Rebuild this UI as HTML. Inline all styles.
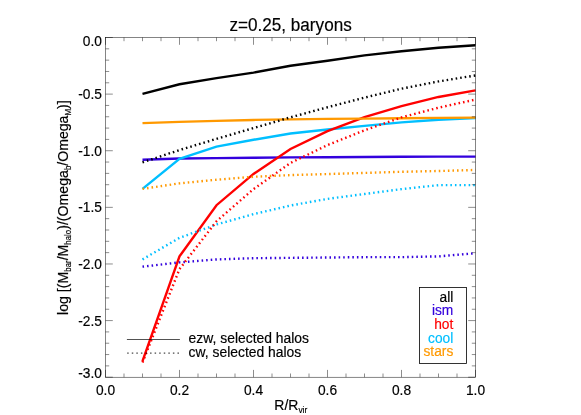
<!DOCTYPE html>
<html><head><meta charset="utf-8"><title>z=0.25, baryons</title>
<style>html,body{margin:0;padding:0;background:#fff;}svg{display:block;will-change:transform;opacity:0.999;}text{font-family:"Liberation Sans",sans-serif;fill:#000;stroke:#000;stroke-width:0.18px;}</style></head><body>
<svg width="581" height="415" viewBox="0 0 581 415">
<rect x="0" y="0" width="581" height="415" fill="#fff"/>
<g fill="none" stroke-linejoin="miter" stroke-linecap="butt">
<polyline points="142.50,93.89 179.50,84.27 216.50,78.15 253.50,72.60 290.50,65.81 327.50,60.71 364.50,55.39 401.50,51.31 438.50,47.69 475.50,45.31" stroke="#000000" stroke-width="2.4"/>
<polyline points="142.50,159.68 179.50,158.55 216.50,158.09 253.50,157.75 290.50,157.41 327.50,157.19 364.50,156.96 401.50,156.73 438.50,156.62 475.50,156.62" stroke="#3300dd" stroke-width="2.4"/>
<polyline points="142.50,188.89 179.50,158.77 216.50,146.66 253.50,139.75 290.50,133.52 327.50,129.45 364.50,125.82 401.50,122.42 438.50,119.82 475.50,118.12" stroke="#00bfff" stroke-width="2.4"/>
<polyline points="142.50,361.12 179.50,256.38 216.50,205.20 253.50,173.95 290.50,148.92 327.50,131.14 364.50,117.10 401.50,106.12 438.50,96.95 475.50,90.38" stroke="#ff0000" stroke-width="2.4"/>
<polyline points="142.50,123.10 179.50,121.86 216.50,120.84 253.50,119.93 290.50,119.37 327.50,118.91 364.50,118.58 401.50,118.24 438.50,117.90 475.50,117.67" stroke="#ff9900" stroke-width="2.4"/>
<polyline points="142.50,162.40 179.50,150.05 216.50,138.84 253.50,128.09 290.50,117.33 327.50,107.25 364.50,97.63 401.50,88.68 438.50,81.43 475.50,75.43" stroke="#000000" stroke-width="2.4" stroke-dasharray="1.55 3.02"/>
<polyline points="142.50,266.68 179.50,262.38 216.50,259.44 253.50,258.19 290.50,257.85 327.50,257.51 364.50,257.17 401.50,257.17 438.50,256.38 475.50,253.21" stroke="#3300dd" stroke-width="2.4" stroke-dasharray="1.55 3.02"/>
<polyline points="142.50,259.44 179.50,237.81 216.50,224.45 253.50,214.14 290.50,205.54 327.50,198.86 364.50,193.99 401.50,189.12 438.50,185.16 475.50,185.16" stroke="#00bfff" stroke-width="2.4" stroke-dasharray="1.55 3.02"/>
<polyline points="142.50,362.48 179.50,269.06 216.50,221.28 253.50,189.12 290.50,162.96 327.50,145.07 364.50,130.35 401.50,117.33 438.50,107.70 475.50,99.55" stroke="#ff0000" stroke-width="2.4" stroke-dasharray="1.55 3.02"/>
<polyline points="142.50,188.89 179.50,183.34 216.50,179.72 253.50,176.78 290.50,175.08 327.50,174.06 364.50,172.93 401.50,171.79 438.50,171.00 475.50,169.98" stroke="#ff9900" stroke-width="2.4" stroke-dasharray="1.55 3.02"/>
</g>
<rect x="105.50" y="37.50" width="370.00" height="339.70" fill="none" stroke="#000" stroke-width="0.48"/>
<g stroke="#000" stroke-width="0.45" fill="none">
<line x1="105.50" y1="377.20" x2="105.50" y2="369.90"/>
<line x1="105.50" y1="37.50" x2="105.50" y2="44.80"/>
<line x1="124.00" y1="377.20" x2="124.00" y2="373.50"/>
<line x1="124.00" y1="37.50" x2="124.00" y2="41.20"/>
<line x1="142.50" y1="377.20" x2="142.50" y2="373.50"/>
<line x1="142.50" y1="37.50" x2="142.50" y2="41.20"/>
<line x1="161.00" y1="377.20" x2="161.00" y2="373.50"/>
<line x1="161.00" y1="37.50" x2="161.00" y2="41.20"/>
<line x1="179.50" y1="377.20" x2="179.50" y2="369.90"/>
<line x1="179.50" y1="37.50" x2="179.50" y2="44.80"/>
<line x1="198.00" y1="377.20" x2="198.00" y2="373.50"/>
<line x1="198.00" y1="37.50" x2="198.00" y2="41.20"/>
<line x1="216.50" y1="377.20" x2="216.50" y2="373.50"/>
<line x1="216.50" y1="37.50" x2="216.50" y2="41.20"/>
<line x1="235.00" y1="377.20" x2="235.00" y2="373.50"/>
<line x1="235.00" y1="37.50" x2="235.00" y2="41.20"/>
<line x1="253.50" y1="377.20" x2="253.50" y2="369.90"/>
<line x1="253.50" y1="37.50" x2="253.50" y2="44.80"/>
<line x1="272.00" y1="377.20" x2="272.00" y2="373.50"/>
<line x1="272.00" y1="37.50" x2="272.00" y2="41.20"/>
<line x1="290.50" y1="377.20" x2="290.50" y2="373.50"/>
<line x1="290.50" y1="37.50" x2="290.50" y2="41.20"/>
<line x1="309.00" y1="377.20" x2="309.00" y2="373.50"/>
<line x1="309.00" y1="37.50" x2="309.00" y2="41.20"/>
<line x1="327.50" y1="377.20" x2="327.50" y2="369.90"/>
<line x1="327.50" y1="37.50" x2="327.50" y2="44.80"/>
<line x1="346.00" y1="377.20" x2="346.00" y2="373.50"/>
<line x1="346.00" y1="37.50" x2="346.00" y2="41.20"/>
<line x1="364.50" y1="377.20" x2="364.50" y2="373.50"/>
<line x1="364.50" y1="37.50" x2="364.50" y2="41.20"/>
<line x1="383.00" y1="377.20" x2="383.00" y2="373.50"/>
<line x1="383.00" y1="37.50" x2="383.00" y2="41.20"/>
<line x1="401.50" y1="377.20" x2="401.50" y2="369.90"/>
<line x1="401.50" y1="37.50" x2="401.50" y2="44.80"/>
<line x1="420.00" y1="377.20" x2="420.00" y2="373.50"/>
<line x1="420.00" y1="37.50" x2="420.00" y2="41.20"/>
<line x1="438.50" y1="377.20" x2="438.50" y2="373.50"/>
<line x1="438.50" y1="37.50" x2="438.50" y2="41.20"/>
<line x1="457.00" y1="377.20" x2="457.00" y2="373.50"/>
<line x1="457.00" y1="37.50" x2="457.00" y2="41.20"/>
<line x1="475.50" y1="377.20" x2="475.50" y2="369.90"/>
<line x1="475.50" y1="37.50" x2="475.50" y2="44.80"/>
<line x1="105.50" y1="37.50" x2="112.80" y2="37.50"/>
<line x1="475.50" y1="37.50" x2="468.20" y2="37.50"/>
<line x1="105.50" y1="48.82" x2="109.20" y2="48.82"/>
<line x1="475.50" y1="48.82" x2="471.80" y2="48.82"/>
<line x1="105.50" y1="60.15" x2="109.20" y2="60.15"/>
<line x1="475.50" y1="60.15" x2="471.80" y2="60.15"/>
<line x1="105.50" y1="71.47" x2="109.20" y2="71.47"/>
<line x1="475.50" y1="71.47" x2="471.80" y2="71.47"/>
<line x1="105.50" y1="82.79" x2="109.20" y2="82.79"/>
<line x1="475.50" y1="82.79" x2="471.80" y2="82.79"/>
<line x1="105.50" y1="94.12" x2="112.80" y2="94.12"/>
<line x1="475.50" y1="94.12" x2="468.20" y2="94.12"/>
<line x1="105.50" y1="105.44" x2="109.20" y2="105.44"/>
<line x1="475.50" y1="105.44" x2="471.80" y2="105.44"/>
<line x1="105.50" y1="116.76" x2="109.20" y2="116.76"/>
<line x1="475.50" y1="116.76" x2="471.80" y2="116.76"/>
<line x1="105.50" y1="128.09" x2="109.20" y2="128.09"/>
<line x1="475.50" y1="128.09" x2="471.80" y2="128.09"/>
<line x1="105.50" y1="139.41" x2="109.20" y2="139.41"/>
<line x1="475.50" y1="139.41" x2="471.80" y2="139.41"/>
<line x1="105.50" y1="150.73" x2="112.80" y2="150.73"/>
<line x1="475.50" y1="150.73" x2="468.20" y2="150.73"/>
<line x1="105.50" y1="162.06" x2="109.20" y2="162.06"/>
<line x1="475.50" y1="162.06" x2="471.80" y2="162.06"/>
<line x1="105.50" y1="173.38" x2="109.20" y2="173.38"/>
<line x1="475.50" y1="173.38" x2="471.80" y2="173.38"/>
<line x1="105.50" y1="184.70" x2="109.20" y2="184.70"/>
<line x1="475.50" y1="184.70" x2="471.80" y2="184.70"/>
<line x1="105.50" y1="196.03" x2="109.20" y2="196.03"/>
<line x1="475.50" y1="196.03" x2="471.80" y2="196.03"/>
<line x1="105.50" y1="207.35" x2="112.80" y2="207.35"/>
<line x1="475.50" y1="207.35" x2="468.20" y2="207.35"/>
<line x1="105.50" y1="218.67" x2="109.20" y2="218.67"/>
<line x1="475.50" y1="218.67" x2="471.80" y2="218.67"/>
<line x1="105.50" y1="230.00" x2="109.20" y2="230.00"/>
<line x1="475.50" y1="230.00" x2="471.80" y2="230.00"/>
<line x1="105.50" y1="241.32" x2="109.20" y2="241.32"/>
<line x1="475.50" y1="241.32" x2="471.80" y2="241.32"/>
<line x1="105.50" y1="252.64" x2="109.20" y2="252.64"/>
<line x1="475.50" y1="252.64" x2="471.80" y2="252.64"/>
<line x1="105.50" y1="263.97" x2="112.80" y2="263.97"/>
<line x1="475.50" y1="263.97" x2="468.20" y2="263.97"/>
<line x1="105.50" y1="275.29" x2="109.20" y2="275.29"/>
<line x1="475.50" y1="275.29" x2="471.80" y2="275.29"/>
<line x1="105.50" y1="286.61" x2="109.20" y2="286.61"/>
<line x1="475.50" y1="286.61" x2="471.80" y2="286.61"/>
<line x1="105.50" y1="297.94" x2="109.20" y2="297.94"/>
<line x1="475.50" y1="297.94" x2="471.80" y2="297.94"/>
<line x1="105.50" y1="309.26" x2="109.20" y2="309.26"/>
<line x1="475.50" y1="309.26" x2="471.80" y2="309.26"/>
<line x1="105.50" y1="320.58" x2="112.80" y2="320.58"/>
<line x1="475.50" y1="320.58" x2="468.20" y2="320.58"/>
<line x1="105.50" y1="331.91" x2="109.20" y2="331.91"/>
<line x1="475.50" y1="331.91" x2="471.80" y2="331.91"/>
<line x1="105.50" y1="343.23" x2="109.20" y2="343.23"/>
<line x1="475.50" y1="343.23" x2="471.80" y2="343.23"/>
<line x1="105.50" y1="354.55" x2="109.20" y2="354.55"/>
<line x1="475.50" y1="354.55" x2="471.80" y2="354.55"/>
<line x1="105.50" y1="365.88" x2="109.20" y2="365.88"/>
<line x1="475.50" y1="365.88" x2="471.80" y2="365.88"/>
<line x1="105.50" y1="377.20" x2="112.80" y2="377.20"/>
<line x1="475.50" y1="377.20" x2="468.20" y2="377.20"/>
</g>
<text transform="translate(105.50,394.70) scale(0.9500,1)" font-size="14.5" text-anchor="middle">0.0</text>
<text transform="translate(179.50,394.70) scale(0.9500,1)" font-size="14.5" text-anchor="middle">0.2</text>
<text transform="translate(253.50,394.70) scale(0.9500,1)" font-size="14.5" text-anchor="middle">0.4</text>
<text transform="translate(327.50,394.70) scale(0.9500,1)" font-size="14.5" text-anchor="middle">0.6</text>
<text transform="translate(401.50,394.70) scale(0.9500,1)" font-size="14.5" text-anchor="middle">0.8</text>
<text transform="translate(475.50,394.70) scale(0.9500,1)" font-size="14.5" text-anchor="middle">1.0</text>
<text transform="translate(102.00,46.00) scale(0.9500,1)" font-size="14.5" text-anchor="end">0.0</text>
<text transform="translate(102.00,99.12) scale(0.9500,1)" font-size="14.5" text-anchor="end">-0.5</text>
<text transform="translate(102.00,155.73) scale(0.9500,1)" font-size="14.5" text-anchor="end">-1.0</text>
<text transform="translate(102.00,212.35) scale(0.9500,1)" font-size="14.5" text-anchor="end">-1.5</text>
<text transform="translate(102.00,268.97) scale(0.9500,1)" font-size="14.5" text-anchor="end">-2.0</text>
<text transform="translate(102.00,325.58) scale(0.9500,1)" font-size="14.5" text-anchor="end">-2.5</text>
<text transform="translate(102.00,377.60) scale(0.9500,1)" font-size="14.5" text-anchor="end">-3.0</text>
<text transform="translate(290.60,31.00) scale(0.9620,1)" font-size="17.8" text-anchor="middle">z=0.25, baryons</text>
<text transform="translate(274.30,409.50) scale(0.9850,1)" font-size="14.2">R/R</text>
<text transform="translate(298.39,412.80) scale(0.9300,1)" font-size="9.0">vir</text>
<text transform="translate(67.60,314.90) rotate(-90) scale(0.9740,1)" font-size="14.5">log [(M</text>
<text transform="translate(70.90,271.74) rotate(-90) scale(0.8570,1)" font-size="9.2">bar</text>
<text transform="translate(67.60,260.34) rotate(-90) scale(0.9740,1)" font-size="14.5">/M</text>
<text transform="translate(70.90,244.65) rotate(-90) scale(0.8570,1)" font-size="9.2">halo</text>
<text transform="translate(67.60,229.75) rotate(-90) scale(0.9740,1)" font-size="14.5">)/(Omega</text>
<text transform="translate(70.90,170.10) rotate(-90) scale(0.8570,1)" font-size="9.2">b</text>
<text transform="translate(67.60,165.72) rotate(-90) scale(0.9740,1)" font-size="14.5">/Omega</text>
<text transform="translate(70.90,115.48) rotate(-90) scale(0.8570,1)" font-size="9.2">M</text>
<text transform="translate(67.60,108.91) rotate(-90) scale(0.9740,1)" font-size="14.5">)]</text>
<line x1="126.9" y1="339.5" x2="179.9" y2="339.5" stroke="#000" stroke-width="0.68"/>
<line x1="127.2" y1="353.1" x2="179.9" y2="353.1" stroke="#000" stroke-width="0.9" stroke-dasharray="1.5 3.07"/>
<text transform="translate(188.60,342.60) scale(0.9580,1)" font-size="14.5" text-anchor="start">ezw, selected halos</text>
<text transform="translate(188.60,356.60) scale(0.9580,1)" font-size="14.5" text-anchor="start">cw, selected halos</text>
<rect x="419.5" y="287.5" width="47" height="75.9" fill="none" stroke="#000" stroke-width="0.8"/>
<text transform="translate(453.30,301.70) scale(0.9500,1)" font-size="14.5" text-anchor="end" style="fill:#000000;stroke:#000000">all</text>
<text transform="translate(453.30,315.30) scale(0.9500,1)" font-size="14.5" text-anchor="end" style="fill:#3300dd;stroke:#3300dd">ism</text>
<text transform="translate(453.30,328.90) scale(0.9500,1)" font-size="14.5" text-anchor="end" style="fill:#ff0000;stroke:#ff0000">hot</text>
<text transform="translate(453.30,342.50) scale(0.9500,1)" font-size="14.5" text-anchor="end" style="fill:#00bfff;stroke:#00bfff">cool</text>
<text transform="translate(453.30,356.10) scale(0.9500,1)" font-size="14.5" text-anchor="end" style="fill:#ff9900;stroke:#ff9900">stars</text>
</svg></body></html>
